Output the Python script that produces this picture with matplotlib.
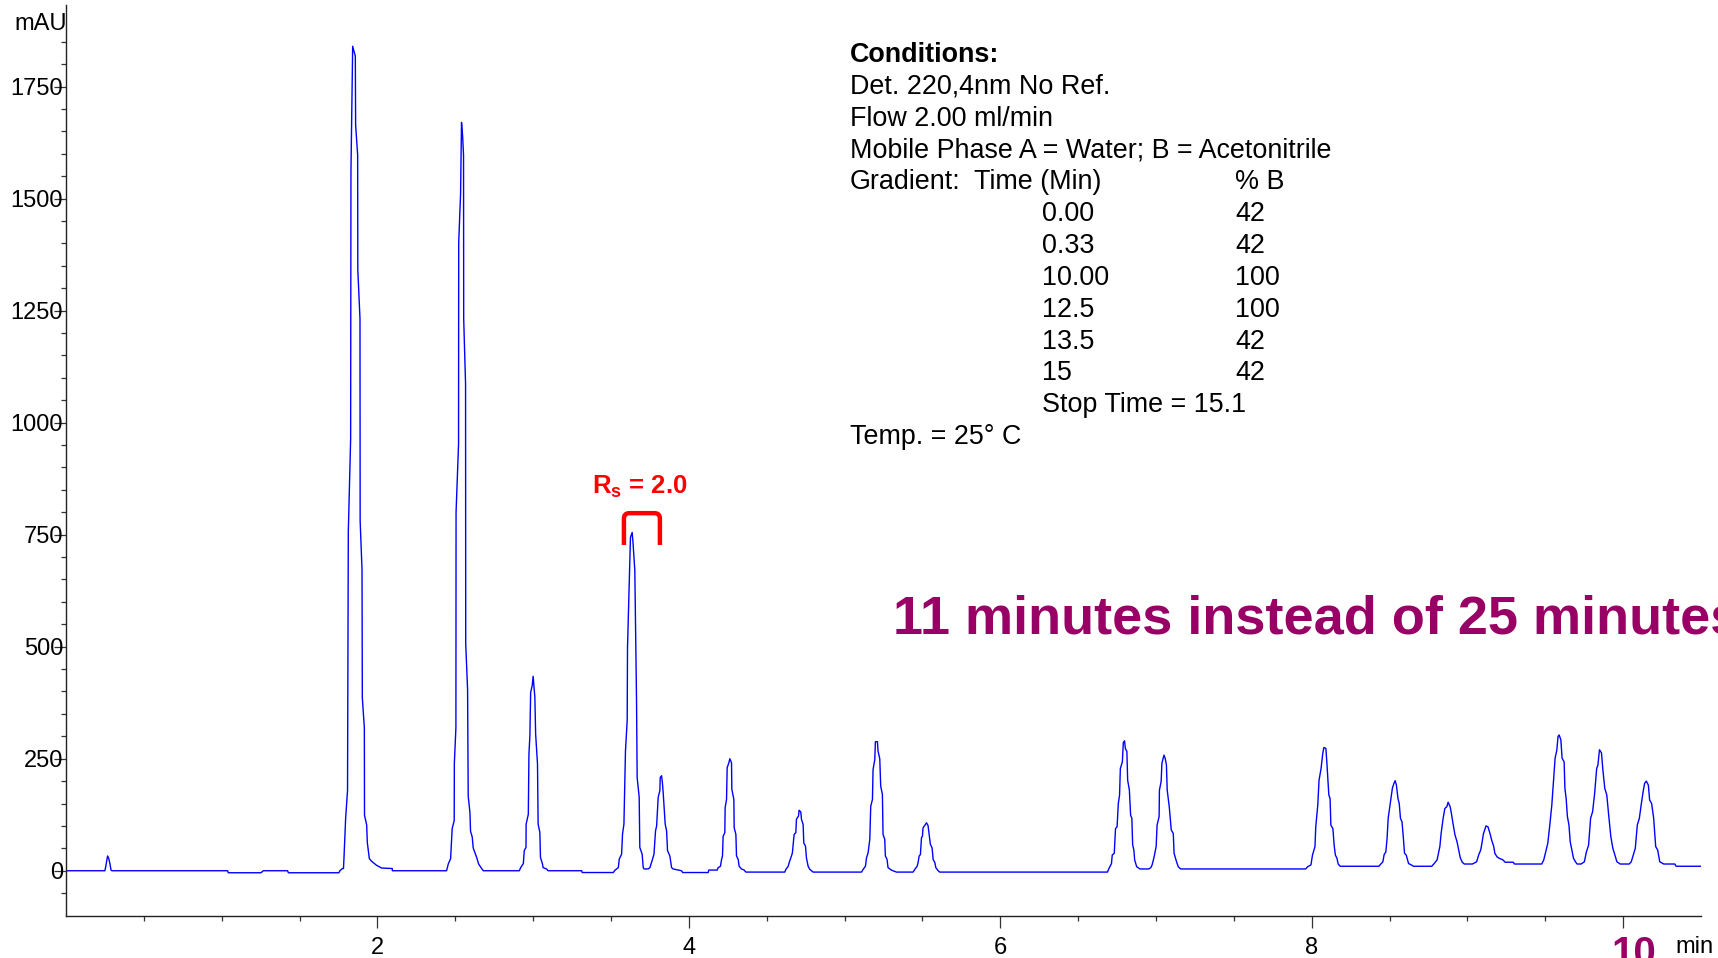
import numpy as np
import matplotlib.pyplot as plt
from matplotlib.path import Path
from matplotlib.patches import PathPatch
from matplotlib.transforms import ScaledTranslation

plt.rcParams['font.family'] = ['Liberation Sans', 'DejaVu Sans']
plt.rcParams['mathtext.fontset'] = 'custom'
plt.rcParams['mathtext.rm'] = 'Liberation Sans'
plt.rcParams['mathtext.bf'] = 'Liberation Sans:bold'

# detector trace as (time [min], signal [mAU]) points, one list per stretch
seg_start = [(0.000, 0), (0.250, 0), (0.257, 13), (0.267, 33), (0.274, 28), (0.282, 16),
             (0.289, 1.5), (0.295, 0), (1.038, 0), (1.042, -4.5), (1.252, -4.5), (1.267, 0),
             (1.423, 0), (1.428, -4.5), (1.752, -4.5), (1.759, 0)]
peak_184 = [(1.775, 5), (1.782, 5), (1.785, 27), (1.796, 118), (1.808, 179), (1.813, 757),
            (1.828, 964), (1.830, 1560), (1.841, 1840), (1.845, 1835), (1.858, 1818),
            (1.860, 1664), (1.873, 1597), (1.874, 1341), (1.888, 1232), (1.889, 781),
            (1.901, 672), (1.903, 386), (1.916, 319), (1.917, 124), (1.931, 102), (1.935, 63),
            (1.948, 27), (1.963, 21), (1.995, 12), (2.027, 6), (2.095, 5), (2.096, 0)]
peak_254 = [(2.444, 0), (2.455, 15), (2.470, 27), (2.480, 94), (2.493, 112), (2.494, 240),
            (2.504, 319), (2.505, 800), (2.521, 952), (2.522, 1402), (2.534, 1511),
            (2.540, 1670), (2.547, 1640), (2.553, 1597), (2.554, 1232), (2.566, 1086),
            (2.567, 507), (2.579, 404), (2.583, 167), (2.594, 130), (2.598, 88), (2.609, 75),
            (2.615, 51), (2.637, 30), (2.650, 15), (2.665, 7), (2.680, 0)]
peak_300 = [(2.911, 0), (2.920, 7), (2.937, 16), (2.943, 45), (2.954, 52), (2.955, 104),
            (2.969, 126), (2.973, 260), (2.979, 301), (2.984, 398), (2.994, 413), (3.000, 434),
            (3.005, 413), (3.011, 387), (3.016, 305), (3.028, 238), (3.032, 104), (3.043, 86),
            (3.047, 30), (3.060, 15), (3.064, 7), (3.086, 4), (3.096, 0), (3.312, 0),
            (3.315, -4)]
peak_364 = [(3.515, -4), (3.525, 1), (3.547, 7), (3.553, 26), (3.568, 37), (3.574, 82),
            (3.583, 104), (3.593, 268), (3.604, 335), (3.606, 498), (3.621, 692), (3.625, 744),
            (3.636, 755), (3.642, 729), (3.653, 670), (3.664, 379), (3.668, 208), (3.681, 164),
            (3.685, 52), (3.700, 37), (3.707, 7), (3.713, 4), (3.739, 4)]
peak_383 = [(3.750, 7), (3.767, 26), (3.776, 37), (3.786, 89), (3.793, 100), (3.803, 164),
            (3.814, 179), (3.816, 208), (3.825, 212), (3.831, 193), (3.835, 175), (3.848, 104),
            (3.857, 89), (3.863, 45), (3.878, 33), (3.889, 7), (3.899, 4), (3.953, 0),
            (3.960, -4), (4.124, -4), (4.128, 1.5), (4.182, 1.5)]
peak_426 = [(4.188, 7), (4.203, 10), (4.210, 25), (4.216, 33), (4.220, 77), (4.231, 85),
            (4.233, 141), (4.242, 159), (4.246, 230), (4.257, 241), (4.263, 250), (4.274, 241),
            (4.276, 182), (4.289, 159), (4.291, 96), (4.302, 81), (4.306, 33), (4.317, 25),
            (4.323, 10), (4.338, 4), (4.355, 1.5), (4.366, -3)]
peak_471 = [(4.616, -3), (4.623, 3), (4.638, 10), (4.644, 18), (4.659, 33), (4.665, 40),
            (4.676, 81), (4.687, 85), (4.691, 115), (4.704, 122), (4.708, 135), (4.719, 131),
            (4.723, 115), (4.734, 103), (4.738, 62), (4.749, 55), (4.755, 29), (4.766, 10),
            (4.777, 3), (4.798, -3)]
peak_520 = [(5.109, -3), (5.119, 3), (5.134, 10), (5.141, 29), (5.151, 40), (5.162, 70),
            (5.168, 144), (5.179, 159), (5.183, 226), (5.194, 248), (5.198, 288), (5.211, 288),
            (5.215, 267), (5.226, 250), (5.232, 189), (5.243, 170), (5.247, 81), (5.258, 70),
            (5.262, 33), (5.273, 25), (5.279, 7), (5.300, 1.5), (5.333, -3)]
peak_553 = [(5.440, -3), (5.451, 3), (5.466, 10), (5.472, 18), (5.479, 33), (5.487, 36),
            (5.494, 74), (5.500, 77), (5.504, 96), (5.515, 101), (5.526, 107), (5.536, 101),
            (5.543, 81), (5.551, 59), (5.562, 51), (5.569, 25), (5.580, 18), (5.586, 7),
            (5.601, 0), (5.611, -3), (6.688, -3)]
peak_680 = [(6.698, 5), (6.714, 16), (6.719, 35), (6.732, 39), (6.740, 94), (6.750, 98),
            (6.758, 150), (6.766, 169), (6.771, 228), (6.784, 243), (6.790, 286), (6.798, 290),
            (6.803, 273), (6.813, 266), (6.818, 202), (6.829, 180), (6.837, 124), (6.845, 117),
            (6.850, 58), (6.858, 46), (6.863, 24), (6.876, 9), (6.897, 4), (6.954, 4)]
peak_705 = [(6.967, 7), (6.975, 13), (6.988, 31), (7.001, 54), (7.007, 102), (7.020, 121),
            (7.022, 180), (7.033, 199), (7.038, 240), (7.051, 258), (7.059, 251), (7.067, 236),
            (7.072, 180), (7.085, 143), (7.098, 91), (7.111, 83), (7.116, 39), (7.132, 20),
            (7.143, 9), (7.158, 4), (7.961, 4)]
peak_808 = [(7.974, 9), (7.995, 13), (8.005, 35), (8.021, 54), (8.026, 98), (8.039, 147),
            (8.047, 202), (8.060, 228), (8.071, 262), (8.078, 275), (8.091, 273), (8.097, 243),
            (8.104, 202), (8.110, 169), (8.118, 161), (8.123, 102), (8.136, 94), (8.144, 57),
            (8.152, 35), (8.162, 28), (8.170, 15), (8.183, 10), (8.431, 10)]
peak_854 = [(8.444, 15), (8.457, 20), (8.465, 36), (8.476, 42), (8.484, 72), (8.491, 117),
            (8.510, 165), (8.518, 184), (8.528, 195), (8.536, 201), (8.544, 191), (8.554, 161),
            (8.562, 150), (8.570, 117), (8.580, 109), (8.588, 76), (8.596, 39), (8.607, 35),
            (8.622, 16), (8.640, 13), (8.653, 10), (8.771, 10)]
peak_888 = [(8.784, 15), (8.805, 24), (8.816, 42), (8.823, 54), (8.831, 83), (8.844, 117),
            (8.855, 139), (8.868, 143), (8.876, 153), (8.889, 143), (8.897, 128), (8.907, 106),
            (8.920, 80), (8.933, 65), (8.946, 42), (8.954, 29), (8.967, 19), (8.980, 15),
            (9.032, 15)]
peak_912 = [(9.059, 20), (9.072, 35), (9.085, 46), (9.093, 61), (9.103, 83), (9.111, 91),
            (9.119, 100), (9.132, 98), (9.145, 83), (9.156, 68), (9.169, 54), (9.176, 39),
            (9.190, 31), (9.203, 28), (9.229, 24), (9.242, 19), (9.294, 19), (9.302, 15),
            (9.477, 15)]
peak_959 = [(9.490, 24), (9.503, 42), (9.516, 61), (9.529, 102), (9.542, 147), (9.550, 187),
            (9.563, 251), (9.574, 269), (9.582, 300), (9.589, 303), (9.600, 292), (9.608, 251),
            (9.621, 243), (9.626, 184), (9.634, 161), (9.642, 121), (9.652, 102), (9.660, 65),
            (9.673, 42), (9.681, 28), (9.694, 20), (9.704, 15), (9.730, 15)]
peak_985 = [(9.751, 20), (9.764, 42), (9.778, 57), (9.791, 117), (9.804, 132), (9.817, 173),
            (9.830, 228), (9.838, 236), (9.848, 270), (9.861, 263), (9.869, 228), (9.882, 184),
            (9.895, 169), (9.908, 121), (9.921, 76), (9.934, 50), (9.947, 35), (9.960, 20),
            (9.981, 15), (10.039, 15)]
peak_1015 = [(10.052, 20), (10.065, 35), (10.078, 50), (10.091, 102), (10.104, 117),
             (10.117, 150), (10.130, 180), (10.138, 195), (10.149, 200), (10.162, 191),
             (10.170, 158), (10.183, 150), (10.196, 117), (10.209, 54), (10.222, 46),
             (10.235, 20), (10.261, 15), (10.332, 15), (10.340, 10), (10.496, 10)]

trace = (seg_start + peak_184 + peak_254 + peak_300 + peak_364 + peak_383 + peak_426
         + peak_471 + peak_520 + peak_553 + peak_680 + peak_705 + peak_808 + peak_854
         + peak_888 + peak_912 + peak_959 + peak_985 + peak_1015)
t = np.array([p[0] for p in trace])
mau = np.array([p[1] for p in trace])

x_major = [2, 4, 6, 8, 10]
x_labels = ['2', '4', '6', '8', '10']
y_major = [0, 250, 500, 750, 1000, 1250, 1500, 1750]

# resolution bracket over the critical pair
rs_left, rs_right = 3.583, 3.814
rs_low, rs_top = 727, 798

conditions = ['Det. 220,4nm No Ref.', 'Flow 2.00 ml/min',
              'Mobile Phase A = Water; B = Acetonitrile']
grad_time = ['0.00', '0.33', '10.00', '12.5', '13.5', '15']
grad_b = ['42', '42', '100', '100', '42', '42']

W, H = 1718, 958
fig = plt.figure(figsize=(W / 100, H / 100), dpi=100)
ax = fig.add_axes([66 / W, 1 - 916 / H, (1701 - 66) / W, (916 - 5) / H])

ax.plot(t, mau, color='#0000ff', lw=1.0)
ax.set_xlim(0, 10.5)
ax.set_ylim(-101, 1932)
ax.spines['top'].set_visible(False)
ax.spines['right'].set_visible(False)
for s in ['left', 'bottom']:
    ax.spines[s].set_linewidth(1.0)
    ax.spines[s].set_color('#222222')

ax.set_xticks(x_major)
ax.set_xticklabels(x_labels)
ax.set_xticks(np.arange(0.5, 10.5, 0.5), minor=True)
ax.set_yticks(y_major)
ax.set_yticks(np.arange(-50, 1900, 50), minor=True)
ax.tick_params(which='major', length=8.5, width=0.9, color='#333333', labelsize=17)
ax.tick_params(which='minor', length=3.6, width=0.9, color='#333333')
ax.tick_params(axis='y', which='major', pad=-6.5)
ax.tick_params(axis='x', which='major', pad=6.5)

# last time label is highlighted
lab10 = ax.get_xticklabels()[-1]
lab10.set_color('#990066')
lab10.set_fontweight('bold')
lab10.set_fontsize(29)
lab10.set_transform(lab10.get_transform() + ScaledTranslation(0.11, 0.02, fig.dpi_scale_trans))

fig.text(67 / W, 1 - 30 / H, 'mAU', fontsize=17, ha='right', va='baseline')
fig.text(1675 / W, 1 - 953 / H, 'min', fontsize=17, ha='left', va='baseline')

# resolution annotation
verts = [(rs_left, rs_low), (rs_left, rs_top - 12), (rs_left, rs_top), (rs_left + 0.035, rs_top),
         (rs_right - 0.035, rs_top), (rs_right, rs_top), (rs_right, rs_top - 12), (rs_right, rs_low)]
codes = [Path.MOVETO, Path.LINETO, Path.CURVE3, Path.CURVE3,
         Path.LINETO, Path.CURVE3, Path.CURVE3, Path.LINETO]
ax.add_patch(PathPatch(Path(verts, codes), fill=False, edgecolor='#ff0000', lw=3.2,
                       capstyle='butt'))
fig.text(592 / W, 1 - 494 / H, r'$\mathbf{R_s}$ = 2.0', color='#ff0000', fontsize=18.5,
         fontweight='bold', va='baseline')

fig.text(893 / W, 1 - 634 / H, '11 minutes instead of 25 minutes', color='#990066',
         fontsize=39, fontweight='bold', va='baseline')

# run conditions block
x0, xt, xb = 850, 1042, 1235
base, step = 62, 31.85
fs = 19.4
fig.text(x0 / W, 1 - base / H, 'Conditions:', fontsize=fs, fontweight='bold', va='baseline')
for i, line in enumerate(conditions):
    fig.text(x0 / W, 1 - (base + step * (i + 1)) / H, line, fontsize=fs, va='baseline')
yg = base + step * 4
fig.text(x0 / W, 1 - yg / H, 'Gradient:', fontsize=fs, va='baseline')
fig.text(974 / W, 1 - yg / H, 'Time (Min)', fontsize=fs, va='baseline')
fig.text(xb / W, 1 - yg / H, '% B', fontsize=fs, va='baseline')
for i, (tm, b) in enumerate(zip(grad_time, grad_b)):
    yy = yg + step * (i + 1)
    fig.text(xt / W, 1 - yy / H, tm, fontsize=fs, va='baseline')
    fig.text(xb / W, 1 - yy / H, b, fontsize=fs, va='baseline')
fig.text(xt / W, 1 - (yg + step * 7) / H, 'Stop Time = 15.1', fontsize=fs, va='baseline')
fig.text(x0 / W, 1 - (yg + step * 8) / H, 'Temp. = 25\u00b0 C', fontsize=fs, va='baseline')

fig.savefig('out.png', dpi=100)
